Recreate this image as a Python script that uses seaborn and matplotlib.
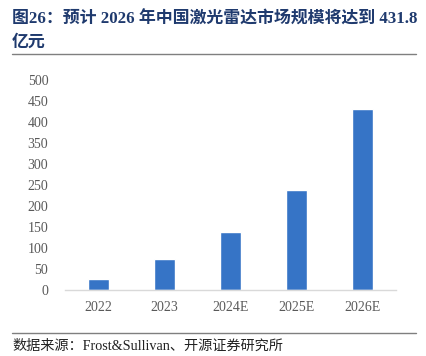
import matplotlib
matplotlib.use("Agg")
import matplotlib.pyplot as plt
import seaborn as sns
import pandas as pd
from matplotlib.lines import Line2D

categories = ["2022", "2023", "2024E", "2025E", "2026E"]
values = [25.5, 74.6, 138.5, 238.5, 431.8]
yticks = [0, 50, 100, 150, 200, 250, 300, 350, 400, 450, 500]

sns.set_theme(style="white")
plt.rcParams['font.family'] = ['Liberation Serif', 'Noto Sans CJK SC', 'DejaVu Sans']

df = pd.DataFrame({"year": categories, "value": values})

fig = plt.figure(figsize=(4.26, 3.56), dpi=100)
W, H = 426, 356
ax = fig.add_axes([65 / W, 1 - 290 / H, (396 - 65) / W, (290 - 80) / H])

sns.barplot(data=df, x="year", y="value", color="#3674C6", width=0.32,
            saturation=1, ax=ax)
ax.set_ylim(0, 500)
ax.set_yticks(yticks)
ax.set_xlabel("")
ax.set_ylabel("")
for s in ["top", "right", "left"]:
    ax.spines[s].set_visible(False)
ax.spines["bottom"].set_color("#D9D9D9")
ax.spines["bottom"].set_linewidth(1.0)
ax.tick_params(axis="both", length=0, labelsize=10, colors="#595959", pad=12)
ax.tick_params(axis="x", pad=8)

title_color = "#1F3A6E"
fig.text(12 / W, 1 - 24 / H, "图26：预计 2026 年中国激光雷达市场规模将达到 431.8",
         fontsize=12.2, fontweight="bold", color=title_color, va="baseline",
         family=['Liberation Serif', 'Noto Sans CJK SC'])
fig.text(12 / W, 1 - 47 / H, "亿元",
         fontsize=12.2, fontweight="bold", color=title_color, va="baseline",
         family=['Liberation Serif', 'Noto Sans CJK SC'])
fig.add_artist(Line2D([12 / W, 416 / W], [1 - 54 / H, 1 - 54 / H],
                      color="#7F7F7F", linewidth=1.0, transform=fig.transFigure))
fig.add_artist(Line2D([12 / W, 416 / W], [1 - 333 / H, 1 - 333 / H],
                      color="#7F7F7F", linewidth=1.0, transform=fig.transFigure))
fig.text(12 / W, 1 - 350 / H, "数据来源：Frost&Sullivan、开源证券研究所",
         fontsize=10.2, color="#222222", va="baseline",
         family=['Liberation Serif', 'Noto Sans CJK SC'])

fig.savefig("out.png", dpi=100)
